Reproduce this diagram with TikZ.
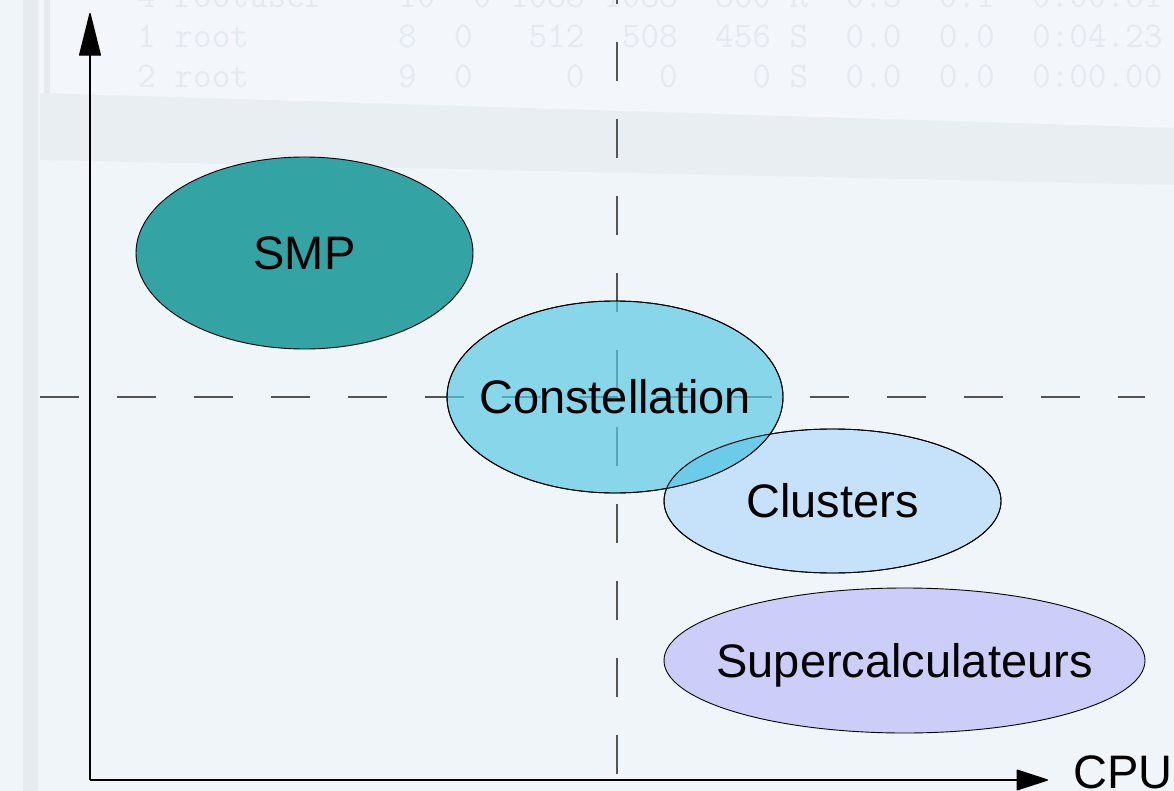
\documentclass[tikz,border=0pt]{standalone}
\usepackage{fontspec}
\setmainfont{Liberation Sans}
\usetikzlibrary{arrows.meta,shapes.geometric,calc}

\definecolor{bgC}{RGB}{240,245,250}
\definecolor{topC}{RGB}{243,247,251}
\definecolor{bandC}{RGB}{232,238,242}
\definecolor{stripC}{RGB}{229,235,239}
\definecolor{termC}{RGB}{227,234,241}
\definecolor{smpC}{RGB}{51,163,163}
\definecolor{conC}{RGB}{91,201,227}
\definecolor{cluC}{RGB}{197,226,250}
\definecolor{ovC}{RGB}{108,203,232}
\definecolor{supC}{RGB}{205,205,250}
\definecolor{dashC}{RGB}{85,85,85}

\tikzset{
  x=1pt, y=-1pt,
  axis/.style={line width=1.4pt, black},
  guide/.style={line width=1.4pt, dashC, dash pattern=on 39pt off 38pt},
  blob/.style={ellipse, draw=black, line width=0.9pt, inner sep=0pt, outer sep=0pt},
  outline/.style={draw=black, line width=0.9pt},
  lbl/.style={font=\fontsize{47}{56}\selectfont, text=black, inner sep=0pt, anchor=base},
  term/.style={font=\ttfamily\fontsize{36.2}{44}\selectfont, text=termC, inner sep=0pt,
               anchor=base west},
}

\begin{document}
\begin{tikzpicture}
\useasboundingbox (0,0) rectangle (1174,791);

% backdrop: a faded terminal window
\fill[bgC] (0,0) rectangle (1174,791);
\fill[topC] (40,0) -- (1174,0) -- (1174,128) -- (40,93) -- cycle;
\fill[bandC] (40,93) -- (1174,128) -- (1174,185) -- (40,160) -- cycle;
\fill[stripC] (23,0) rectangle (38,791);
\fill[stripC] (44,0) rectangle (50,93);
\node[term] (row1) at (137,8)  {4~rootuser~~~~10~~0~1088~1088~~860~R~~0.3~~0.1~~0:00.61};
\node[term] (row2) at (137,48) {1~root~~~~~~~~8~~0~~~512~~508~~456~S~~0.0~~0.0~~0:04.23};
\node[term] (row3) at (137,88) {2~root~~~~~~~~9~~0~~~~~0~~~~0~~~~0~S~~0.0~~0.0~~0:00.00};

% quadrant guides
\coordinate (hl) at (40,397);
\coordinate (hr) at (1145,397);
\coordinate (vt) at (617,-35);
\coordinate (vb) at (617,780);
\draw[guide] (hl) -- (hr);
\draw[guide] (vt) -- (vb);

% families of machines
\node[blob, fill=smpC, minimum width=337pt, minimum height=192pt] (smp) at (304.5,253) {};
\node[blob, fill=cluC, minimum width=337pt, minimum height=144pt] (clu) at (832.5,501) {};
\node[blob, fill=conC, fill opacity=0.7, minimum width=336pt, minimum height=192pt] (con) at (615,397) {};
\node[blob, fill=supC, minimum width=481pt, minimum height=145pt] (sup) at (904.5,660.5) {};

% shared zone of Constellation and Clusters
\begin{scope}
  \clip (con.center) ellipse [x radius=168, y radius=96];
  \fill[ovC] (clu.center) ellipse [x radius=168.5, y radius=72];
\end{scope}
\draw[outline] (con.center) ellipse [x radius=168, y radius=96];
\draw[outline] (clu.center) ellipse [x radius=168.5, y radius=72];

% labels
\node[lbl] (smpt) at ($(smp.center)+(0,16.5)$) {SMP};
\node[lbl] (cont) at ($(con.center)+(0,16.5)$) {Constellation};
\node[lbl] (clut) at ($(clu.center)+(0,16.5)$) {Clusters};
\node[lbl] (supt) at ($(sup.center)+(0,16.5)$) {Supercalculateurs};

% axes
\coordinate (o) at (90,780);
\coordinate (ytop) at (90,13);
\coordinate (xend) at (1048,780);
\draw[axis, -{Triangle[length=45pt, width=22pt, round]}] (o) -- (ytop);
\draw[axis, -{Triangle[length=33pt, width=21pt, round]}] (o) -- (xend);
\node[lbl, anchor=base west] (cpu) at (1073,788) {CPU};
\end{tikzpicture}
\end{document}
